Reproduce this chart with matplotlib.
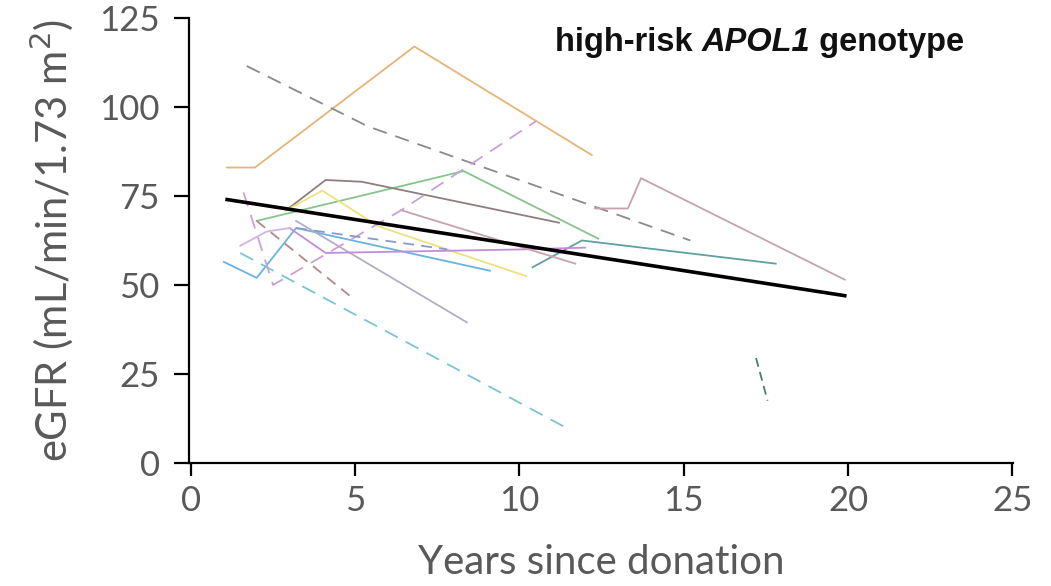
import matplotlib
matplotlib.use("Agg")
import matplotlib.pyplot as plt

# individual donor trajectories (years since donation, eGFR)
orange_x = [1.1, 1.95, 6.8, 12.2]
orange_y = [83, 83, 117, 86.5]
graydash_x = [1.7, 5.4, 15.2]
graydash_y = [111.5, 94.5, 62.5]
rosy_x = [12.3, 13.3, 13.7, 19.9]
rosy_y = [71.5, 71.5, 80, 51.5]
green_x = [2.0, 8.3, 12.4]
green_y = [68, 82, 63]
brown_x = [2.9, 4.1, 5.2, 11.2]
brown_y = [71, 79.5, 79, 67.5]
yellow_x = [2.9, 4.0, 5.7, 10.2]
yellow_y = [71, 76.5, 66.5, 52.5]
blue_x = [1.0, 2.0, 3.2, 9.1]
blue_y = [56.5, 52, 66, 54]
teal_x = [10.4, 11.9, 17.8]
teal_y = [55, 62.5, 56]
cyandash_x = [1.5, 11.4]
cyandash_y = [59, 10]
darkteal_x = [17.2, 17.55]
darkteal_y = [29.5, 17.5]
lgray_x = [3.2, 8.4]
lgray_y = [68, 39.5]
rosydash_x = [2.0, 4.9]
rosydash_y = [68, 46.5]
purpledash_x = [1.6, 2.5, 6.4, 10.5]
purpledash_y = [76, 50, 71, 96]
purple_x = [3.0, 4.1, 10.1, 12.0]
purple_y = [66, 59, 60, 60.5]
pink_x = [6.4, 11.7]
pink_y = [71, 56]
slatedash_x = [3.2, 7.8]
slatedash_y = [66, 60]
lav_x = [1.5, 2.3, 3.0]
lav_y = [61, 65, 66]

# mean regression line
fit_x = [1.1, 19.9]
fit_y = [74, 47]

fig = plt.figure(figsize=(10.51, 5.86), dpi=100)
ax = fig.add_axes([0.1798, 0.2099, 0.784, 0.7594])

lw = 1.3
dash = (0, (8, 5))
ax.plot(orange_x, orange_y, color="#e6b478", lw=lw)
ax.plot(graydash_x, graydash_y, color="#8a8a8a", lw=lw, ls=dash)
ax.plot(rosy_x, rosy_y, color="#c8a2aa", lw=lw)
ax.plot(green_x, green_y, color="#86c48a", lw=lw)
ax.plot(brown_x, brown_y, color="#8e7e7e", lw=lw)
ax.plot(yellow_x, yellow_y, color="#ece27e", lw=lw)
ax.plot(blue_x, blue_y, color="#68b4dc", lw=lw)
ax.plot(teal_x, teal_y, color="#5fa0a0", lw=lw)
ax.plot(cyandash_x, cyandash_y, color="#7cc4d4", lw=lw, ls=dash)
ax.plot(darkteal_x, darkteal_y, color="#4e7c6c", lw=lw, ls=(0, (5, 3)))
ax.plot(lgray_x, lgray_y, color="#b4aec4", lw=lw)
ax.plot(rosydash_x, rosydash_y, color="#b08888", lw=lw, ls=(0, (6, 4)))
ax.plot(purpledash_x, purpledash_y, color="#c8a0dc", lw=lw, ls=dash)
ax.plot(purple_x, purple_y, color="#c08ed8", lw=lw)
ax.plot(pink_x, pink_y, color="#c4a4b0", lw=lw)
ax.plot(slatedash_x, slatedash_y, color="#8a9ac8", lw=lw, ls=(0, (6, 4)))
ax.plot(lav_x, lav_y, color="#d0b4e4", lw=lw)
ax.plot(fit_x, fit_y, color="black", lw=2.6)

ax.set_xlim(-0.06, 25.02)
ax.set_ylim(0, 125)
ax.set_xticks([0, 5, 10, 15, 20, 25])
ax.set_yticks([0, 25, 50, 75, 100, 125])

for s in ["top", "right"]:
    ax.spines[s].set_visible(False)
for s in ["left", "bottom"]:
    ax.spines[s].set_linewidth(1.6)

ax.tick_params(axis="y", length=11, width=1.6, direction="out", pad=10,
               labelsize=25, labelcolor="#595959")
ax.tick_params(axis="x", length=9, width=1.6, direction="out", pad=7,
               labelsize=25, labelcolor="#595959")
for lab in ax.get_xticklabels() + ax.get_yticklabels():
    lab.set_family("Lato")

ax.set_xlabel("Years since donation", fontsize=29, color="#595959",
              family="Lato", labelpad=19)
ax.set_ylabel("eGFR (mL/min/1.73 m$^2$)", fontsize=30, color="#595959",
              family="Lato", labelpad=17)

# panel label, with the gene name in bold italic
t1 = ax.text(0.444, 0.946, "high-risk ", transform=ax.transAxes,
             ha="left", va="center", fontsize=23.5, fontweight="bold",
             family="Liberation Sans", color="#111111")
t2 = ax.annotate("APOL1", xy=(1, 0), xycoords=t1, ha="left", va="bottom",
                 fontsize=23.5, fontweight="bold", fontstyle="italic",
                 family="Liberation Sans", color="#111111")
ax.annotate(" genotype", xy=(1, 0), xycoords=t2, ha="left", va="bottom",
            fontsize=23.5, fontweight="bold", family="Liberation Sans",
            color="#111111")

fig.savefig("out.png", dpi=100)
